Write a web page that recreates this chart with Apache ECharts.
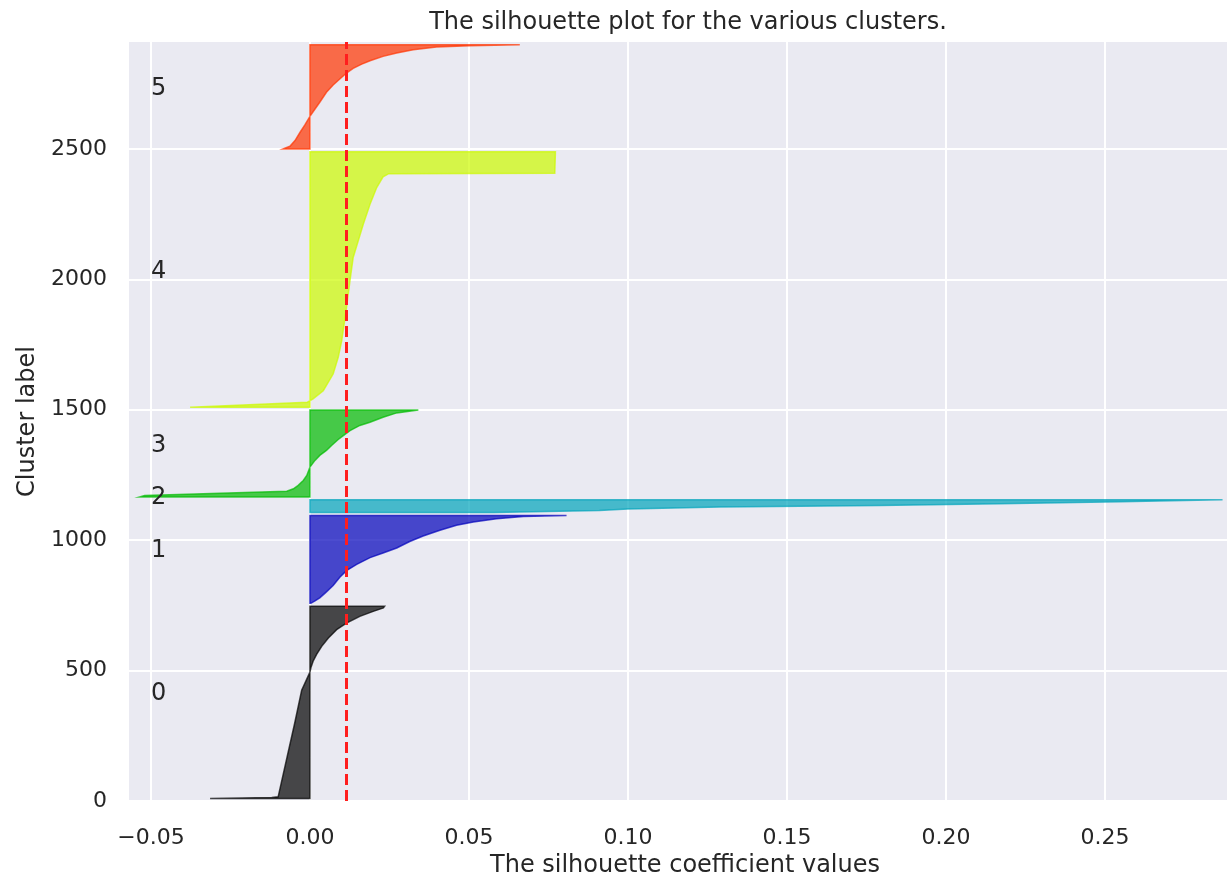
<!DOCTYPE html>
<html>
<head>
<meta charset="utf-8">
<script src="https://cdn.jsdelivr.net/npm/echarts@6/dist/echarts.min.js"></script>
<style>
html,body{margin:0;padding:0;background:#fff;}
#chart{width:1227px;height:874px;}
</style>
</head>
<body>
<div id="chart"></div>
<script>
// ---- data ----
const clusterNames = ['0', '1', '2', '3', '4', '5'];
const clusterSizes = [738, 338, 50, 334, 980, 400];
// sorted silhouette values: row offset within the cluster -> value
const c0Rank = [0, 3, 6, 158, 288, 415, 484, 501, 526, 552, 583, 615, 647, 672, 698, 717, 730, 737];
const c0Vals = [-0.0314, -0.0120, -0.0100, -0.0072, -0.0048, -0.0026, 0.0000, 0.0003, 0.0010, 0.0021, 0.0037, 0.0058, 0.0084, 0.0115, 0.0157, 0.0199, 0.0231, 0.0235];
const c1Rank = [0, 9, 21, 44, 68, 100, 125, 149, 175, 193, 212, 237, 258, 280, 299, 312, 324, 333, 337];
const c1Vals = [0.0003, 0.0016, 0.0031, 0.0052, 0.0073, 0.0094, 0.0115, 0.0147, 0.0189, 0.0230, 0.0273, 0.0314, 0.0356, 0.0409, 0.0461, 0.0514, 0.0587, 0.0671, 0.0807];
const c2Rank = [0, 2, 8, 14, 21, 27, 34, 41, 49];
const c2Vals = [0.058, 0.066, 0.091, 0.100, 0.129, 0.179, 0.217, 0.255, 0.287];
const c3Rank = [0, 5, 22, 31, 44, 63, 82, 114, 140, 159, 178, 197, 220, 235, 254, 274, 286, 305, 322, 333];
const c3Vals = [-0.0535, -0.0520, -0.0073, -0.0052, -0.0037, -0.0021, -0.0010, 0.0000, 0.0016, 0.0031, 0.0052, 0.0068, 0.0089, 0.0105, 0.0126, 0.0157, 0.0189, 0.0230, 0.0273, 0.0341];
const c4Rank = [0, 19, 32, 63, 127, 191, 255, 382, 485, 574, 638, 702, 778, 842, 883, 895, 897, 979];
const c4Vals = [-0.0377, -0.0008, 0.0010, 0.0042, 0.0073, 0.0089, 0.0100, 0.0115, 0.0126, 0.0136, 0.0152, 0.0168, 0.0189, 0.0210, 0.0230, 0.0248, 0.0770, 0.0772];
const c5Rank = [0, 3, 10, 32, 64, 92, 125, 153, 179, 217, 245, 268, 291, 309, 325, 338, 355, 368, 380, 391, 396, 399];
const c5Vals = [-0.0085, -0.0079, -0.0063, -0.0047, -0.0031, -0.0016, 0.0000, 0.0016, 0.0031, 0.0052, 0.0073, 0.0094, 0.0115, 0.0136, 0.0163, 0.0189, 0.0230, 0.0273, 0.0325, 0.0398, 0.0503, 0.0660];
const avgSilhouette = 0.0115;
const xRange = [-0.0569, 0.2928];
const yRange = [0, 2910];

const clusterRanks = [c0Rank, c1Rank, c2Rank, c3Rank, c4Rank, c5Rank];
const clusterVals = [c0Vals, c1Vals, c2Vals, c3Vals, c4Vals, c5Vals];
const clusterColors = ['rgb(0,0,0)', 'rgb(0,0,187)', 'rgb(0,164,187)', 'rgb(0,187,0)', 'rgb(204,249,0)', 'rgb(255,51,0)'];

// lower bound of each cluster band (gap of 10 rows)
const yLowers = [];
(function () { let y = 10; clusterSizes.forEach(s => { yLowers.push(y); y += s + 10; }); })();

const FONT = 'DejaVu Sans';
const TXT = '#262626';

const chart = echarts.init(document.getElementById('chart'), null, {renderer: 'canvas'});
chart.setOption({
  backgroundColor: '#ffffff',
  animation: false,
  title: {
    text: 'The silhouette plot for the various clusters.',
    left: 683, top: 6, textAlign: 'center',
    textStyle: {fontFamily: FONT, fontSize: 24, fontWeight: 'normal', color: TXT}
  },
  grid: {
    left: 129, right: -14, top: 42, bottom: 73,
    outerBoundsMode: 'none', containLabel: false,
    show: true, backgroundColor: '#EAEAF2', borderWidth: 0
  },
  xAxis: {
    type: 'value', min: xRange[0], max: xRange[1],
    name: 'The silhouette coefficient values', nameLocation: 'middle', nameGap: 48,
    nameTextStyle: {fontFamily: FONT, fontSize: 24, color: TXT},
    axisLine: {show: false}, axisTick: {show: false},
    axisLabel: {fontFamily: FONT, fontSize: 22, color: TXT, margin: 26,
      showMinLabel: false, showMaxLabel: false,
      formatter: v => v.toFixed(2).replace('-', '\u2212')},
    splitLine: {show: true, showMinLine: false, showMaxLine: false, lineStyle: {color: '#ffffff', width: 2}}
  },
  yAxis: {
    type: 'value', min: yRange[0], max: yRange[1],
    name: 'Cluster label', nameLocation: 'middle', nameGap: 80, nameRotate: 90,
    nameTextStyle: {fontFamily: FONT, fontSize: 24, color: TXT},
    axisLine: {show: false}, axisTick: {show: false},
    axisLabel: {fontFamily: FONT, fontSize: 22, color: TXT, margin: 22, showMaxLabel: false,
      formatter: v => String(v)},
    splitLine: {show: true, showMaxLine: false, lineStyle: {color: '#ffffff', width: 2}}
  },
  series: [
    {
      type: 'custom',
      data: clusterNames.map((n, i) => [i]),
      renderItem: function (params, api) {
        const ci = params.dataIndex;
        const base = yLowers[ci];
        const ranks = clusterRanks[ci], vals = clusterVals[ci];
        const pts = [api.coord([0, base])];
        for (let k = 0; k < ranks.length; k++) pts.push(api.coord([vals[k], base + ranks[k]]));
        pts.push(api.coord([0, base + ranks[ranks.length - 1]]));
        return {
          type: 'polygon',
          shape: {points: pts},
          style: {fill: clusterColors[ci], stroke: clusterColors[ci], lineWidth: 1.5, opacity: 0.7}
        };
      },
      z: 2
    },
    {
      type: 'custom',
      data: clusterNames.map((n, i) => [i]),
      renderItem: function (params, api) {
        const ci = params.dataIndex;
        const p = api.coord([-0.05, yLowers[ci] + clusterSizes[ci] / 2]);
        return {
          type: 'text', x: p[0], y: p[1] - 8,
          style: {text: clusterNames[ci], fill: TXT, font: '24px "DejaVu Sans"', align: 'left', verticalAlign: 'middle'}
        };
      },
      z: 3
    },
    {
      type: 'line',
      data: [[avgSilhouette, yRange[0]], [avgSilhouette, yRange[1]]],
      symbol: 'none',
      lineStyle: {color: 'rgb(255,30,30)', width: 3, type: [11, 5], opacity: 1},
      z: 4
    }
  ]
});
</script>
</body>
</html>
